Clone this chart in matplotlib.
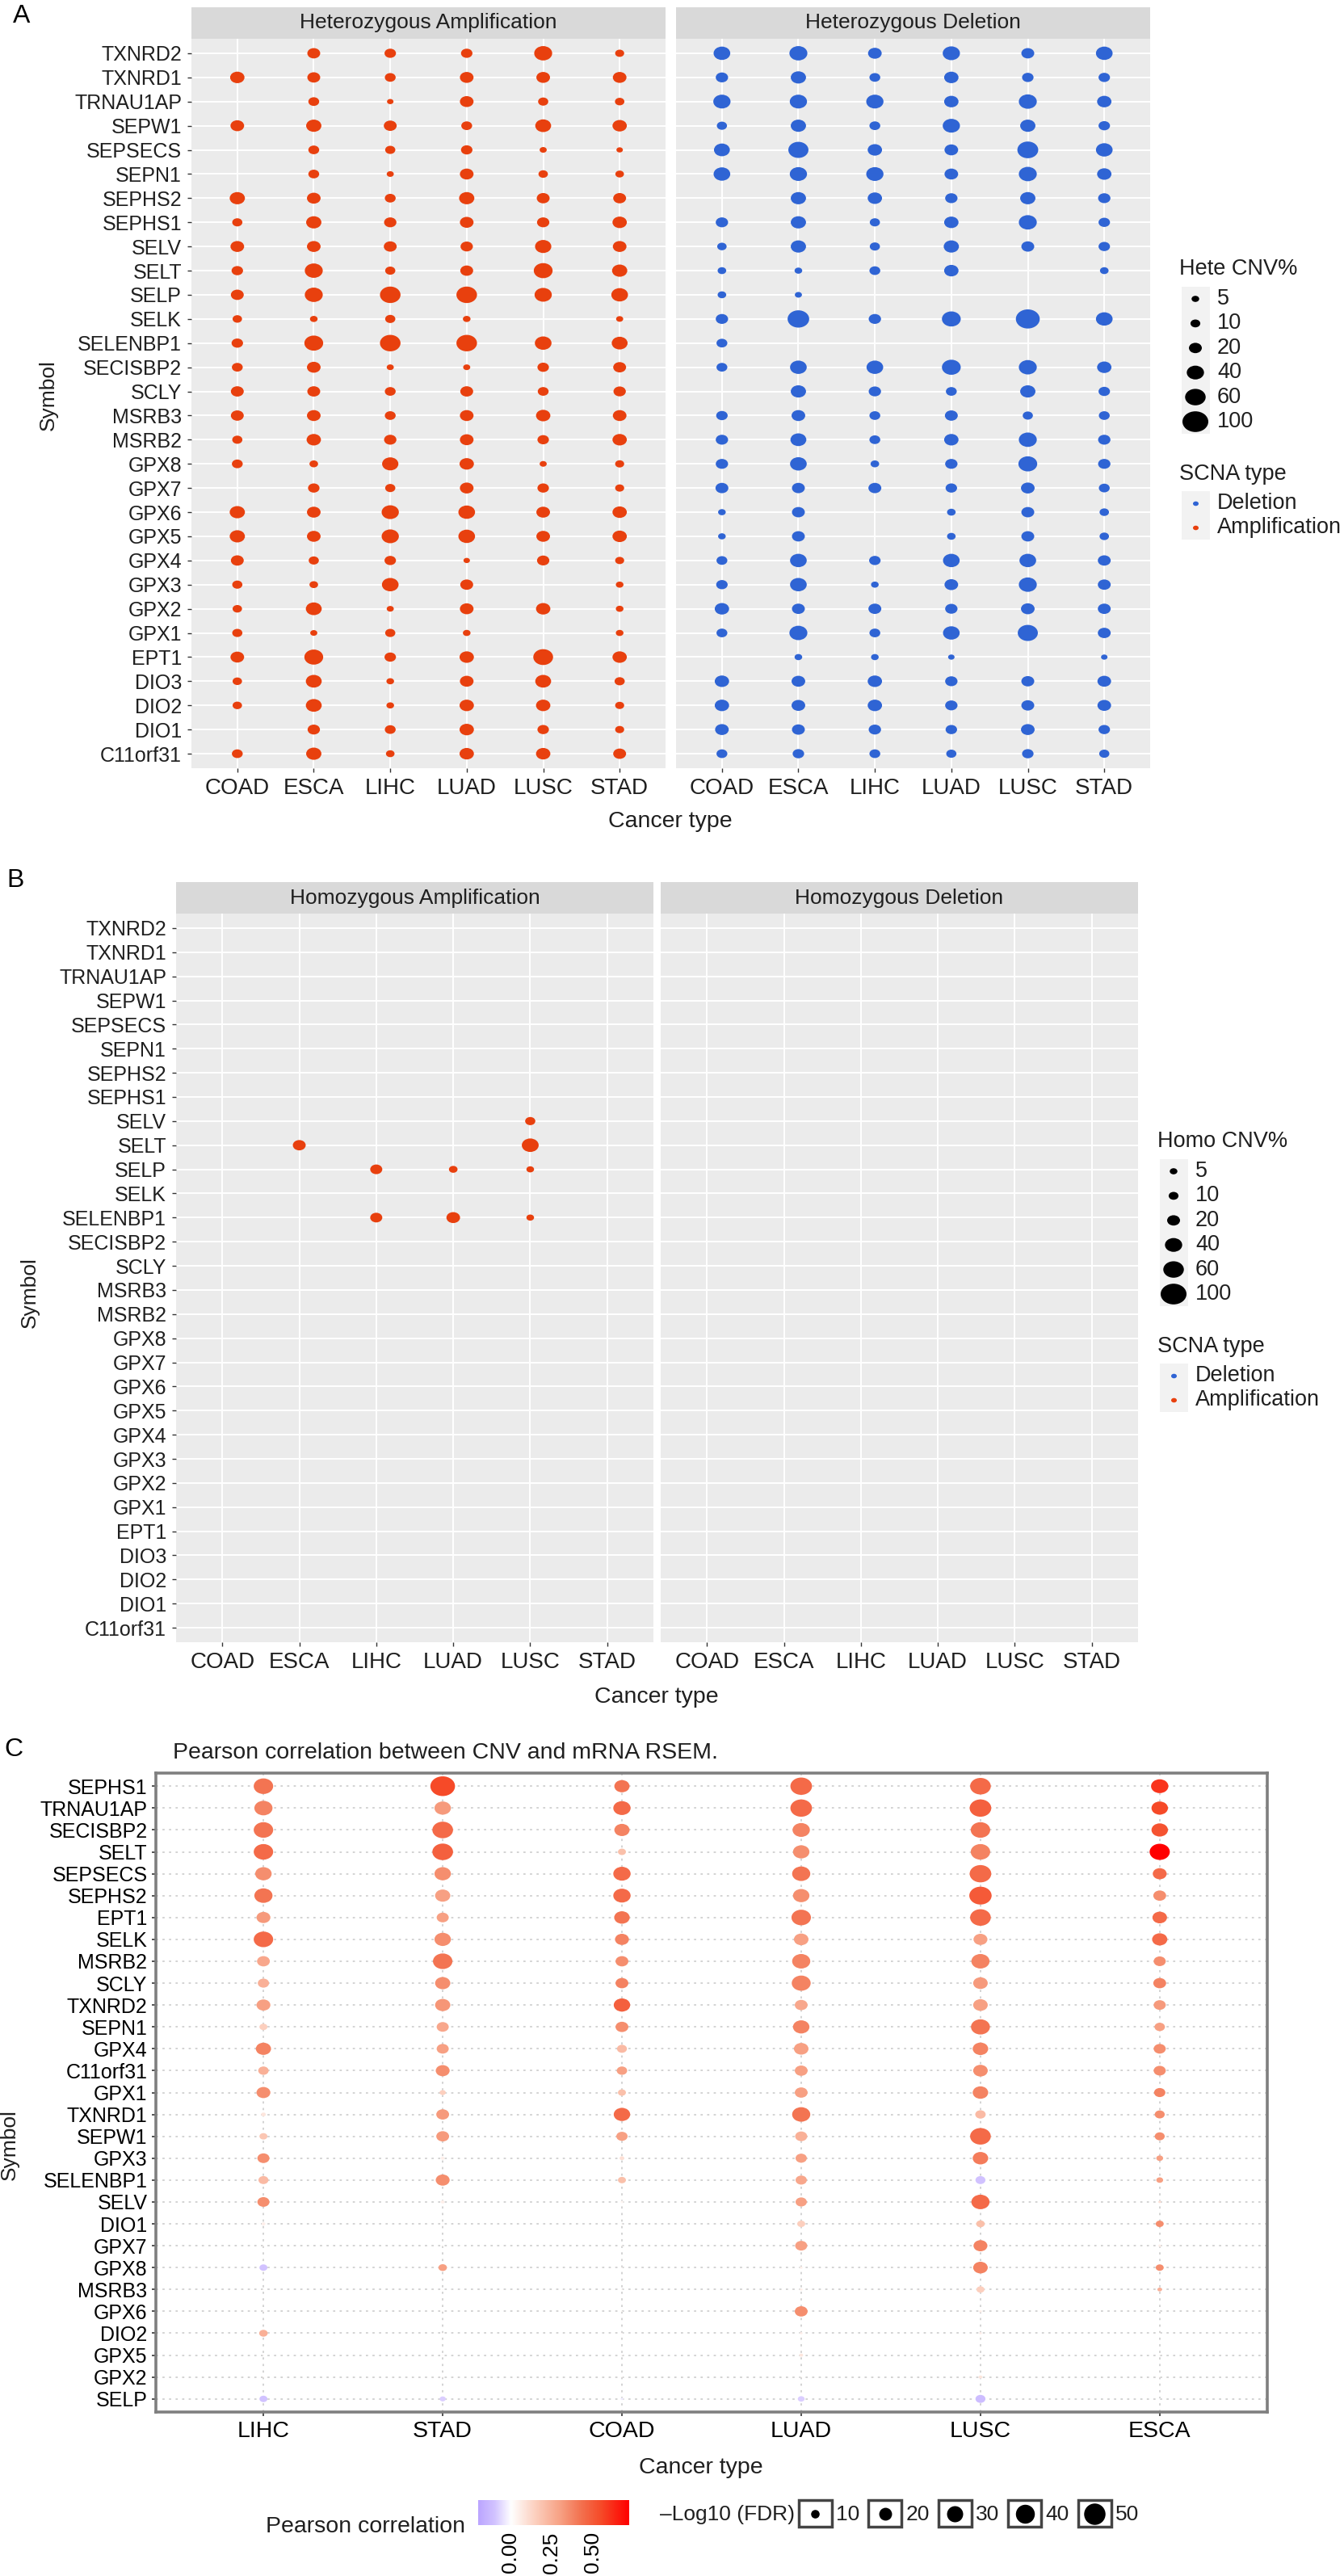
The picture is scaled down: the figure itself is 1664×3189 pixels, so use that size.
import numpy as np
import matplotlib.pyplot as plt
from matplotlib.path import Path
from matplotlib.patches import Rectangle
from matplotlib.colors import LinearSegmentedColormap, Normalize

plt.rcParams['font.family'] = ['Liberation Sans', 'DejaVu Sans']

W, H, DPI = 1665, 3189, 100
nan = np.nan

# ---- panel A / B data ----
genes = ['TXNRD2', 'TXNRD1', 'TRNAU1AP', 'SEPW1', 'SEPSECS', 'SEPN1', 'SEPHS2',
         'SEPHS1', 'SELV', 'SELT', 'SELP', 'SELK', 'SELENBP1', 'SECISBP2', 'SCLY',
         'MSRB3', 'MSRB2', 'GPX8', 'GPX7', 'GPX6', 'GPX5', 'GPX4', 'GPX3', 'GPX2',
         'GPX1', 'EPT1', 'DIO3', 'DIO2', 'DIO1', 'C11orf31']
cancers = ['COAD', 'ESCA', 'LIHC', 'LUAD', 'LUSC', 'STAD']

# heterozygous amplification %, rows = genes, cols = cancers
hete_amp = [
    [nan, 20, 15, 15, 44, 8],
    [26, 20, 13, 23, 23, 23],
    [nan, 13, 3, 23, 11, 9],
    [23, 30, 20, 13, 33, 26],
    [nan, 13, 11, 15, 4, 3],
    [nan, 13, 4, 23, 9, 7],
    [30, 23, 13, 30, 20, 20],
    [11, 30, 18, 23, 18, 26],
    [23, 23, 20, 18, 35, 23],
    [15, 44, 11, 20, 49, 30],
    [20, 44, 60, 60, 40, 37],
    [9, 5, 11, 5, nan, 4],
    [15, 49, 60, 60, 37, 33],
    [13, 23, 4, 4, 15, 20],
    [20, 20, 13, 20, 13, 18],
    [20, 23, 13, 23, 26, 23],
    [11, 26, 18, 23, 15, 26],
    [13, 7, 35, 26, 4, 8],
    [nan, 15, 11, 23, 15, 8],
    [30, 23, 40, 37, 23, 26],
    [30, 23, 40, 37, 23, 26],
    [20, 11, 15, 3, 18, 8],
    [11, 7, 37, 20, nan, 5],
    [9, 33, 4, 23, 26, 5],
    [11, 4, 11, 5, nan, 5],
    [23, 49, 15, 26, 55, 26],
    [9, 33, 5, 23, 33, 11],
    [9, 33, 5, 26, 26, 8],
    [nan, 18, 13, 26, 15, 8],
    [13, 30, 7, 26, 26, 20],
]

# heterozygous deletion %
hete_del = [
    [37, 44, 23, 40, 20, 37],
    [18, 30, 13, 26, 15, 15],
    [40, 40, 40, 26, 44, 26],
    [11, 30, 13, 40, 30, 15],
    [33, 57, 26, 23, 62, 37],
    [37, 40, 40, 23, 44, 26],
    [nan, 30, 26, 18, 30, 18],
    [18, 30, 11, 26, 44, 15],
    [9, 30, 11, 30, 20, 15],
    [7, 5, 13, 26, nan, 7],
    [7, 4, nan, nan, nan, nan],
    [18, 67, 18, 49, 84, 37],
    [13, nan, nan, nan, nan, nan],
    [13, 37, 37, 49, 44, 26],
    [nan, 30, 18, 13, 30, 15],
    [15, 23, 13, 20, 11, 13],
    [18, 33, 13, 26, 44, 18],
    [18, 37, 7, 18, 49, 18],
    [20, 20, 20, 15, 23, 13],
    [5, 20, nan, 7, 20, 9],
    [5, 20, nan, 7, 20, 9],
    [13, 37, 15, 37, 37, 20],
    [15, 37, 5, 23, 44, 20],
    [26, 20, 20, 18, 23, 20],
    [13, 44, 13, 37, 57, 20],
    [nan, 5, 5, 3, nan, 3],
    [26, 23, 26, 18, 20, 23],
    [26, 23, 26, 18, 20, 23],
    [23, 20, 18, 15, 23, 15],
    [13, 15, 13, 11, 15, 11],
]

# homozygous amplification (only a few non-empty cells), no homozygous deletions
homo_amp = [('SELV', 'LUSC', 11), ('SELT', 'ESCA', 20), ('SELT', 'LUSC', 38),
            ('SELP', 'LIHC', 17), ('SELP', 'LUAD', 7), ('SELP', 'LUSC', 5),
            ('SELENBP1', 'LIHC', 17), ('SELENBP1', 'LUAD', 23), ('SELENBP1', 'LUSC', 5)]
cnv_breaks = [5, 10, 20, 40, 60, 100]

# ---- panel C data ----
corr_genes = ['SEPHS1', 'TRNAU1AP', 'SECISBP2', 'SELT', 'SEPSECS', 'SEPHS2', 'EPT1',
              'SELK', 'MSRB2', 'SCLY', 'TXNRD2', 'SEPN1', 'GPX4', 'C11orf31', 'GPX1',
              'TXNRD1', 'SEPW1', 'GPX3', 'SELENBP1', 'SELV', 'DIO1', 'GPX7', 'GPX8',
              'MSRB3', 'GPX6', 'DIO2', 'GPX5', 'GPX2', 'SELP']
corr_cancers = ['LIHC', 'STAD', 'COAD', 'LUAD', 'LUSC', 'ESCA']

pearson_r = [
    [0.42, 0.55, 0.42, 0.45, 0.45, 0.60],
    [0.38, 0.32, 0.45, 0.45, 0.48, 0.55],
    [0.42, 0.45, 0.38, 0.38, 0.42, 0.52],
    [0.45, 0.48, 0.20, 0.35, 0.38, 0.75],
    [0.35, 0.35, 0.45, 0.42, 0.45, 0.45],
    [0.42, 0.30, 0.45, 0.35, 0.50, 0.35],
    [0.32, 0.30, 0.42, 0.42, 0.45, 0.45],
    [0.45, 0.35, 0.38, 0.30, 0.30, 0.45],
    [0.28, 0.42, 0.35, 0.38, 0.38, 0.35],
    [0.25, 0.35, 0.38, 0.38, 0.32, 0.38],
    [0.30, 0.33, 0.48, 0.28, 0.30, 0.32],
    [0.15, 0.28, 0.35, 0.38, 0.42, 0.30],
    [0.38, 0.30, 0.22, 0.30, 0.38, 0.35],
    [0.25, 0.35, 0.30, 0.30, 0.35, 0.35],
    [0.35, 0.15, 0.20, 0.30, 0.38, 0.38],
    [0.08, 0.32, 0.45, 0.42, 0.22, 0.35],
    [0.18, 0.32, 0.30, 0.25, 0.45, 0.35],
    [0.35, 0.05, 0.10, 0.30, 0.40, 0.30],
    [0.22, 0.35, 0.20, 0.28, -0.10, 0.30],
    [0.35, 0.05, 0.03, 0.30, 0.45, 0.10],
    [0.05, 0.02, 0.02, 0.15, 0.20, 0.35],
    [0.02, 0.02, 0.02, 0.30, 0.38, 0.05],
    [-0.10, 0.30, 0.02, 0.05, 0.38, 0.35],
    [0.02, 0.02, 0.02, 0.05, 0.15, 0.25],
    [0.02, 0.02, 0.02, 0.35, 0.05, 0.02],
    [0.25, 0.02, 0.02, 0.05, 0.05, 0.02],
    [0.02, 0.02, 0.02, 0.08, 0.02, 0.02],
    [0.02, 0.02, 0.02, 0.02, 0.08, 0.02],
    [-0.10, -0.08, -0.03, -0.08, -0.12, 0.00],
]

neg_log10_fdr = [
    [42, 65, 27, 51, 47, 34],
    [37, 31, 34, 51, 51, 31],
    [42, 47, 27, 34, 42, 31],
    [42, 47, 9, 31, 42, 45],
    [31, 31, 34, 37, 51, 23],
    [37, 27, 34, 31, 54, 20],
    [23, 18, 28, 42, 47, 25],
    [42, 31, 23, 25, 23, 27],
    [20, 42, 20, 37, 37, 18],
    [16, 27, 20, 40, 25, 20],
    [23, 27, 31, 20, 25, 18],
    [9, 18, 20, 31, 40, 14],
    [27, 18, 13, 25, 28, 18],
    [14, 23, 14, 20, 25, 18],
    [23, 6, 9, 20, 28, 16],
    [4, 20, 31, 37, 14, 13],
    [9, 20, 16, 18, 47, 13],
    [18, 3, 4, 16, 28, 7],
    [13, 23, 9, 16, 13, 7],
    [18, 3, 2, 16, 37, 2],
    [3, 1, 1, 9, 10, 9],
    [1, 1, 1, 18, 23, 2],
    [9, 10, 1, 2, 25, 9],
    [1, 1, 1, 2, 9, 4],
    [1, 1, 1, 20, 2, 1],
    [10, 1, 1, 2, 2, 1],
    [1, 1, 1, 3, 1, 1],
    [1, 1, 1, 1, 3, 1],
    [9, 6, 2, 7, 13, 1],
]
fdr_breaks = [10, 20, 30, 40, 50]
corr_ticks = [0.0, 0.25, 0.5]

RED = '#E8400E'
BLUE = '#2F64D4'
TXT = '#1F1F1F'

# dots in the original are a bit wider than tall
_c = Path.unit_circle()
ELLIPSE = Path(_c.vertices * np.array([1.0, 0.8]), _c.codes)


def pt2(d_px):
    # marker width in pixels -> scatter size in points^2
    return (np.asarray(d_px, float) * 72.0 / DPI) ** 2


def cnv_size(v):
    return 3 + 29 * np.sqrt(np.asarray(v, float) / 100)


def fdr_size(v):
    return np.clip(4.07 * np.sqrt(np.asarray(v, float)) - 2.3, 1.0, None)


vmin, vmax = -0.2, 0.72
anchors = [(-0.2, '#BBA5FF'), (-0.1, '#D2C3FF'), (0.0, '#FFFFFF'), (0.15, '#FCCFBE'),
           (0.30, '#F7A184'), (0.42, '#F37452'), (0.55, '#F64A28'), (0.72, '#FF0000')]
cmap = LinearSegmentedColormap.from_list(
    'corr', [((v - vmin) / (vmax - vmin), c) for v, c in anchors])
norm = Normalize(vmin, vmax)

fig = plt.figure(figsize=(W / DPI, H / DPI), dpi=DPI)


def px_axes(x0, y0, x1, y1, **kw):
    return fig.add_axes([x0 / W, 1 - y1 / H, (x1 - x0) / W, (y1 - y0) / H], **kw)


def facet(x0, x1, y0, y1, title, values, color, first):
    strip = px_axes(x0, y0 - 39, x1, y0)
    strip.set_facecolor('#D9D9D9')
    strip.set_xticks([])
    strip.set_yticks([])
    for s in strip.spines.values():
        s.set_visible(False)
    strip.text(0.5, 0.5, title, ha='center', va='center', fontsize=19,
               color=TXT, transform=strip.transAxes)

    ax = px_axes(x0, y0, x1, y1)
    ax.set_facecolor('#EBEBEB')
    ax.set_xlim(-0.6, len(cancers) - 0.4)
    ax.set_ylim(len(genes) - 0.4, -0.6)
    ax.set_xticks(range(len(cancers)))
    ax.set_xticklabels(cancers, fontsize=20)
    ax.set_yticks(range(len(genes)))
    ax.set_yticklabels(genes if first else [], fontsize=18)
    ax.grid(True, color='white', lw=1.4)
    ax.set_axisbelow(True)
    for s in ax.spines.values():
        s.set_visible(False)
    ax.tick_params(length=3.6, width=1, color='#333333', labelcolor=TXT, pad=5)
    if not first:
        ax.tick_params(axis='y', left=False)

    arr = np.array(values, float)
    yy, xx = np.nonzero(~np.isnan(arr))
    if len(xx):
        ax.scatter(xx, yy, s=pt2(cnv_size(arr[yy, xx])), c=color, marker=ELLIPSE,
                   linewidths=0, zorder=3)
    return ax


# ---- panel A ----
facet(237, 824, 48, 951, 'Heterozygous Amplification', hete_amp, RED, True)
facet(837, 1424, 48, 951, 'Heterozygous Deletion', hete_del, BLUE, False)

# ---- panel B ----
homo_amp_grid = np.full((len(genes), len(cancers)), nan)
for g, c, v in homo_amp:
    homo_amp_grid[genes.index(g), cancers.index(c)] = v
homo_del_grid = np.full((len(genes), len(cancers)), nan)
facet(218, 809, 1131, 2033, 'Homozygous Amplification', homo_amp_grid, RED, True)
facet(818, 1409, 1131, 2033, 'Homozygous Deletion', homo_del_grid, BLUE, False)

# ---- panel C ----
axc = px_axes(193, 2195, 1569, 2986)
axc.set_facecolor('white')
axc.set_xlim(-0.6, len(corr_cancers) - 0.4)
axc.set_ylim(len(corr_genes) - 0.4, -0.6)
axc.set_xticks(range(len(corr_cancers)))
axc.set_xticklabels(corr_cancers, fontsize=20.5)
axc.set_yticks(range(len(corr_genes)))
axc.set_yticklabels(corr_genes, fontsize=18)
axc.grid(True, color='#D0D0D0', lw=1.3, linestyle=(0, (1.5, 3)))
axc.set_axisbelow(True)
for s in axc.spines.values():
    s.set_color('#7F7F7F')
    s.set_linewidth(2.6)
axc.tick_params(length=3.6, width=1.2, color='#333333', labelcolor='black', pad=4)

r = np.array(pearson_r, float)
f = np.array(neg_log10_fdr, float)
yy, xx = np.indices(r.shape)
axc.scatter(xx.ravel(), yy.ravel(), s=pt2(fdr_size(f.ravel())), c=r.ravel(),
            cmap=cmap, norm=norm, marker=ELLIPSE, linewidths=0, zorder=3)

# colour bar of the correlation legend
cax = px_axes(592, 3095, 778, 3126)
cax.imshow(np.linspace(vmin, vmax, 256)[None, :], aspect='auto', cmap=cmap, norm=norm,
           extent=[vmin, vmax, 0, 1])
cax.set_xticks(corr_ticks)
cax.set_xticklabels(['%.2f' % t for t in corr_ticks], rotation=90, fontsize=19)
cax.set_yticks([])
cax.tick_params(length=0, pad=6)
for s in cax.spines.values():
    s.set_visible(False)

# ---- overlay for labels and legends (pixel coordinates) ----
ov = fig.add_axes([0, 0, 1, 1], zorder=10)
ov.set_xlim(0, W)
ov.set_ylim(H, 0)
ov.axis('off')
ov.patch.set_alpha(0)

for letter, x, y in [('A', 16, 20), ('B', 8, 1090), ('C', 5, 2166)]:
    ov.text(x, y, letter, fontsize=23, ha='left', va='center', color='black')

for x, y in [(60, 489), (37, 1600), (12, 2655)]:
    ov.text(x, y, 'Symbol', rotation=90, fontsize=19, ha='center', va='center', color=TXT)
for x, y in [(830, 1017), (813, 2101), (868, 3055)]:
    ov.text(x, y, 'Cancer type', fontsize=20.5, ha='center', va='center', color=TXT)

ov.text(214, 2170, 'Pearson correlation between CNV and mRNA RSEM.', fontsize=20.5,
        ha='left', va='center', color=TXT)


def cnv_legend(x, y_title, title):
    ov.text(x, y_title, title, fontsize=19.5, ha='left', va='center', color=TXT)
    ys = y_title + 37 + 30.4 * np.arange(len(cnv_breaks))
    for y in ys:
        ov.add_patch(Rectangle((x + 3, y - 15.2), 35, 30.4, facecolor='#F2F2F2', lw=0))
    ov.scatter(np.full(len(ys), x + 20), ys, s=pt2(cnv_size(cnv_breaks)), c='black',
               marker=ELLIPSE, linewidths=0, zorder=3)
    for b, y in zip(cnv_breaks, ys):
        ov.text(x + 47, y, str(b), fontsize=19.5, ha='left', va='center', color=TXT)
    y2 = y_title + 254
    ov.text(x, y2, 'SCNA type', fontsize=19.5, ha='left', va='center', color=TXT)
    for k, (lab, col) in enumerate([('Deletion', BLUE), ('Amplification', RED)]):
        y = y2 + 36 + 30 * k
        ov.add_patch(Rectangle((x + 3, y - 15), 35, 30, facecolor='#F2F2F2', lw=0))
        ov.scatter([x + 20], [y], s=pt2(7), c=col, marker=ELLIPSE, linewidths=0, zorder=3)
        ov.text(x + 47, y, lab, fontsize=19.5, ha='left', va='center', color=TXT)


cnv_legend(1460, 333, 'Hete CNV%')
cnv_legend(1433, 1413, 'Homo CNV%')

# panel C legends
ov.text(329, 3128, 'Pearson correlation', fontsize=20.5, ha='left', va='center', color=TXT)
ov.text(817, 3113, '\u2013Log10 (FDR)', fontsize=19, ha='left', va='center', color=TXT)
for k, b in enumerate(fdr_breaks):
    x0 = 989 + 86.5 * k
    ov.add_patch(Rectangle((x0, 3095), 41, 33, facecolor='white', edgecolor='#444444', lw=2.5))
    ov.scatter([x0 + 20.5], [3111.5], s=pt2(fdr_size(b)), c='black', marker='o',
               linewidths=0, zorder=3)
    ov.text(x0 + 46, 3113, str(b), fontsize=19, ha='left', va='center', color=TXT)

fig.savefig('out.png', dpi=DPI)
